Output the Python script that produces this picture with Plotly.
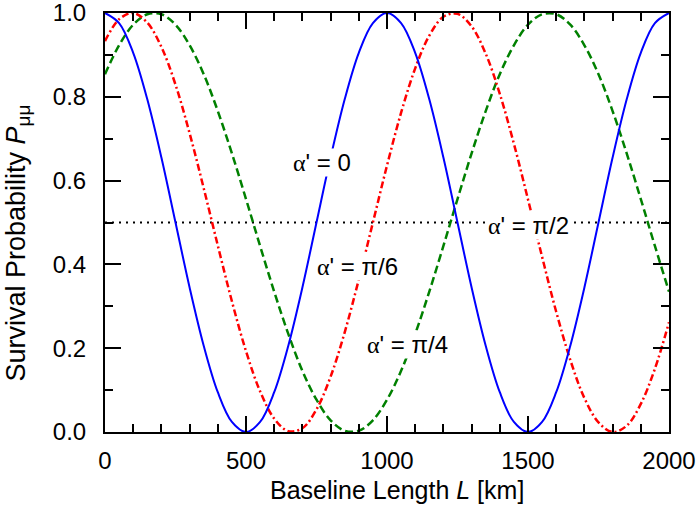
import plotly.graph_objects as go

# --- data (P_mumu vs baseline length, every 50 km) ---
L_km = list(range(0, 2001, 50))

p_alpha_0 = [1.000, 0.976, 0.905, 0.794, 0.655, 0.500, 0.345, 0.206, 0.095, 0.024,
             0.000, 0.024, 0.095, 0.206, 0.345, 0.500, 0.655, 0.794, 0.905, 0.976,
             1.000, 0.976, 0.905, 0.794, 0.655, 0.500, 0.345, 0.206, 0.095, 0.024,
             0.000, 0.024, 0.095, 0.206, 0.345, 0.500, 0.655, 0.794, 0.905, 0.976,
             1.000]

p_alpha_pi6 = [0.933, 0.985, 1.000, 0.977, 0.919, 0.829, 0.713, 0.582, 0.445, 0.312,
               0.193, 0.097, 0.032, 0.002, 0.009, 0.054, 0.132, 0.238, 0.364, 0.500,
               0.636, 0.762, 0.868, 0.946, 0.991, 0.998, 0.968, 0.903, 0.807, 0.688,
               0.555, 0.418, 0.287, 0.172, 0.081, 0.023, 0.000, 0.015, 0.067, 0.151,
               0.262]

p_alpha_pi4 = [0.854, 0.923, 0.972, 0.997, 0.997, 0.972, 0.923, 0.854, 0.766, 0.665,
               0.556, 0.444, 0.335, 0.234, 0.146, 0.077, 0.028, 0.003, 0.003, 0.028,
               0.077, 0.146, 0.234, 0.335, 0.444, 0.556, 0.665, 0.766, 0.854, 0.923,
               0.972, 0.997, 0.997, 0.972, 0.923, 0.854, 0.766, 0.665, 0.556, 0.444,
               0.335]

p_alpha_pi2 = [0.5, 0.5]
L_pi2 = [0, 2000]

# label positions (L, P) and text
labels = [
    (770, 0.644, "0"),
    (897, 0.394, "π/6"),
    (1074, 0.208, "π/4"),
    (1500, 0.494, "π/2"),
]

FONT = "Liberation Sans, Arial, sans-serif"
ALPHA = '<span style="font-family:Liberation Serif">α</span>'
FS = 24

fig = go.Figure()

fig.add_trace(go.Scatter(x=L_pi2, y=p_alpha_pi2, mode="lines",
                         line=dict(color="black", width=2, dash="2px,5px")))
fig.add_trace(go.Scatter(x=L_km, y=p_alpha_pi4, mode="lines",
                         line=dict(color="#008000", width=2.5, dash="8px,4px", shape="spline")))
fig.add_trace(go.Scatter(x=L_km, y=p_alpha_pi6, mode="lines",
                         line=dict(color="#ff0000", width=2.5, dash="7px,3px,2px,3px", shape="spline")))
fig.add_trace(go.Scatter(x=L_km, y=p_alpha_0, mode="lines",
                         line=dict(color="#0000ff", width=2, shape="spline")))

for lx, ly, val in labels:
    fig.add_annotation(x=lx, y=ly, text=f"{ALPHA}' = {val}", showarrow=False,
                       bgcolor="white", borderpad=0,
                       font=dict(family=FONT, size=FS, color="black"))

# axis titles as paper annotations so they sit where the reference has them
fig.add_annotation(xref="paper", yref="paper", x=0.518, y=-0.138,
                   text="Baseline Length <i>L</i> [km]", showarrow=False,
                   xanchor="center", yanchor="middle",
                   font=dict(family=FONT, size=25, color="black"))
fig.add_annotation(xref="paper", yref="paper", x=-0.154, y=0.45,
                   text="Survival Probability <i>P</i><sub>μμ</sub>", showarrow=False,
                   textangle=-90, xanchor="center", yanchor="middle",
                   font=dict(family=FONT, size=27, color="black"))

minor_ticks = dict(ticks="inside", ticklen=8, tickwidth=2, tickcolor="black")

fig.update_xaxes(range=[0, 2000], dtick=500, tick0=0,
                 minor=dict(dtick=100, **minor_ticks),
                 showline=True, linecolor="black", linewidth=2, mirror="ticks",
                 ticks="inside", ticklen=16, tickwidth=2, tickcolor="black",
                 showgrid=False, zeroline=False, automargin=False,
                 ticklabelstandoff=6, ticklabeloverflow="allow",
                 tickfont=dict(family=FONT, size=FS, color="black"))
fig.update_yaxes(range=[0, 1], dtick=0.2, tick0=0, tickformat=".1f",
                 minor=dict(dtick=0.1, **minor_ticks),
                 showline=True, linecolor="black", linewidth=2, mirror="ticks",
                 ticks="inside", ticklen=16, tickwidth=2, tickcolor="black",
                 showgrid=False, zeroline=False, automargin=False,
                 ticklabelstandoff=12, ticklabeloverflow="allow",
                 tickfont=dict(family=FONT, size=FS, color="black"))

fig.update_layout(
    width=697, height=505,
    margin=dict(l=105, r=28, t=13, b=73),
    plot_bgcolor="white", paper_bgcolor="white",
    showlegend=False,
)

fig.write_html("out.html", config={"displayModeBar": False},
               post_script="document.body.style.margin='0';document.body.style.overflow='hidden';")
